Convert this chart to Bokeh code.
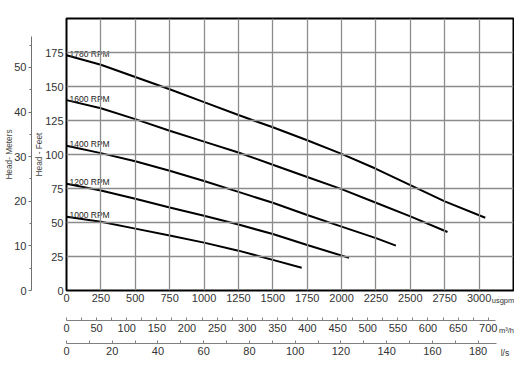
from bokeh.plotting import figure
from bokeh.models import Range1d, LinearAxis, FixedTicker, ColumnDataSource
from bokeh.core.properties import value
from bokeh.embed import file_html
from bokeh.resources import INLINE

# ---- data ----
rpm_labels = ["1780 RPM", "1600 RPM", "1400 RPM", "1200 RPM", "1000 RPM"]
flow_1780 = [0, 250, 500, 750, 1000, 1250, 1500, 1750, 2000, 2250, 2500, 2750, 3045]
head_1780 = [173, 166, 157, 148, 138.5, 129, 120, 110.5, 100.5, 89.5, 77.5, 65.5, 53.5]
flow_1600 = [0, 250, 500, 750, 1000, 1250, 1500, 1750, 2000, 2250, 2500, 2770]
head_1600 = [140, 134, 126, 117.5, 109.5, 101.5, 92.5, 83.5, 74.5, 64.5, 54.5, 43]
flow_1400 = [0, 250, 500, 750, 1000, 1250, 1500, 1750, 2000, 2250, 2395]
head_1400 = [106.5, 101, 95, 88, 80.5, 72.5, 64.5, 55.5, 47, 38.5, 33]
flow_1200 = [0, 250, 500, 750, 1000, 1250, 1500, 1750, 2054]
head_1200 = [78.5, 73.5, 67.5, 61, 55, 48.5, 41.5, 33.5, 24]
flow_1000 = [0, 250, 500, 750, 1000, 1250, 1500, 1710]
head_1000 = [54.2, 50.5, 45.5, 40.5, 35.2, 29.3, 22.5, 16.7]

usgpm_ticks = [0, 250, 500, 750, 1000, 1250, 1500, 1750, 2000, 2250, 2500, 2750, 3000]
feet_ticks = [0, 25, 50, 75, 100, 125, 150, 175]
meter_ticks = [0, 10, 20, 30, 40, 50]
meter_minor = [5, 15, 25, 35, 45, 55]
m3h_ticks = [0, 50, 100, 150, 200, 250, 300, 350, 400, 450, 500, 550, 600, 650, 700]
m3h_minor = [25, 75, 125, 175, 225, 275, 325, 375, 425, 475, 525, 575, 625, 675]
ls_ticks = [0, 20, 40, 60, 80, 100, 120, 140, 160, 180]
ls_minor = [10, 30, 50, 70, 90, 110, 130, 150, 170]
unit_labels = ["usgpm", "m\u00b3/h", "l/s"]

FONT = "Liberation Sans"
TXT = "#333333"
GRID = "#8c8c8c"
X_END, Y_END = 3250, 200
FT_PER_M = 3.28084

p = figure(width=514, height=360, output_backend="svg", toolbar_location=None,
           x_range=Range1d(0, X_END), y_range=Range1d(0, Y_END),
           min_border_left=66, min_border_right=1, min_border_top=18, min_border_bottom=66)
p.background_fill_color = "white"
p.border_fill_color = "white"
p.outline_line_color = "black"
p.outline_line_width = 2

p.extra_y_ranges = {"m": Range1d(0, Y_END / FT_PER_M)}
p.extra_x_ranges = {"m3h": Range1d(0, 742), "ls": Range1d(0, 195.5)}

p.xgrid.ticker = FixedTicker(ticks=usgpm_ticks)
p.ygrid.ticker = FixedTicker(ticks=feet_ticks)
for g in (p.xgrid, p.ygrid):
    g.grid_line_color = GRID
    g.grid_line_width = 1.3
    g.level = "glyph"

def style_labels(ax, size="11px"):
    ax.major_label_text_font = FONT
    ax.major_label_text_font_size = size
    ax.major_label_text_color = TXT

def no_ticks(ax):
    ax.major_tick_in = 0
    ax.major_tick_out = 0
    ax.minor_tick_in = 0
    ax.minor_tick_out = 0

def spacer(ax, size):
    ax.axis_label = " "
    ax.axis_label_standoff = 0
    ax.axis_label_text_font = FONT
    ax.axis_label_text_font_size = size

def title(ax, text, standoff):
    ax.axis_label = text
    ax.axis_label_standoff = standoff
    ax.axis_label_text_font = FONT
    ax.axis_label_text_font_size = "8.3px"
    ax.axis_label_text_font_style = "normal"
    ax.axis_label_text_color = "#444444"

def unit_axis(name, pos, size, standoff, **kw):
    ua = LinearAxis(ticker=FixedTicker(ticks=[pos]), major_label_overrides={pos: name}, **kw)
    ua.axis_line_color = None
    no_ticks(ua)
    ua.major_label_standoff = standoff
    style_labels(ua, size)
    return ua

def scale_axis(ax, standoff):
    ax.axis_line_color = "#808080"
    ax.major_tick_line_color = "#808080"
    ax.minor_tick_line_color = "#808080"
    ax.major_tick_in = 3
    ax.major_tick_out = 0
    ax.minor_tick_in = 3
    ax.minor_tick_out = 0
    ax.major_label_standoff = standoff
    style_labels(ax)

# main y axis (feet)
ya = p.left[0]
ya.ticker = FixedTicker(ticks=feet_ticks)
ya.axis_line_color = None
no_ticks(ya)
ya.major_label_standoff = 3
style_labels(ya)
title(ya, "Head - Feet", -2)

# meters axis
ma = LinearAxis(y_range_name="m", ticker=FixedTicker(ticks=meter_ticks, minor_ticks=meter_minor),
                bounds=(0, 57))
ma.axis_line_color = "#707070"
ma.major_tick_line_color = "#707070"
ma.minor_tick_line_color = "#707070"
ma.major_tick_in = 0
ma.major_tick_out = 3
ma.minor_tick_in = 0
ma.minor_tick_out = 2
ma.major_label_standoff = 2
style_labels(ma)
title(ma, "Head- Meters", -3)
p.add_layout(ma, "left")

# main x axis (usgpm)
xa = p.below[0]
xa.ticker = FixedTicker(ticks=usgpm_ticks)
xa.axis_line_color = None
no_ticks(xa)
xa.major_label_standoff = 3
style_labels(xa)

# unit name "usgpm", pulled up beside the last flow label
u1 = unit_axis(unit_labels[0], 3174, "7.5px", -9)
spacer(u1, "8.75px")
p.add_layout(u1, "below")

# m3/h scale
m3 = LinearAxis(x_range_name="m3h", ticker=FixedTicker(ticks=m3h_ticks, minor_ticks=m3h_minor),
                bounds=(0, 712))
scale_axis(m3, 3)
p.add_layout(m3, "below")

u2 = unit_axis(unit_labels[1], 3199, "7.5px", -9)
spacer(u2, "3px")
p.add_layout(u2, "below")

# l/s scale
ls = LinearAxis(x_range_name="ls", ticker=FixedTicker(ticks=ls_ticks, minor_ticks=ls_minor),
                bounds=(0, 188))
scale_axis(ls, 3)
p.add_layout(ls, "below")

u3 = unit_axis(unit_labels[2], 3188, "8.5px", -10)
p.add_layout(u3, "below")

# curves
curves = [(flow_1780, head_1780), (flow_1600, head_1600), (flow_1400, head_1400),
          (flow_1200, head_1200), (flow_1000, head_1000)]
for fx, hyv in curves:
    p.line(fx, hyv, line_color="black", line_width=2)

# RPM labels
lab_src = ColumnDataSource(dict(x=[22] * len(rpm_labels),
                                y=[c[1][0] + 1 for c in curves],
                                t=rpm_labels))
p.text(x="x", y="y", text="t", source=lab_src, text_font=value(FONT),
       text_font_size="8.5px", text_color="#222222", text_baseline="alphabetic",
       text_align="left")

open("out.html", "w").write(file_html(p, INLINE))
